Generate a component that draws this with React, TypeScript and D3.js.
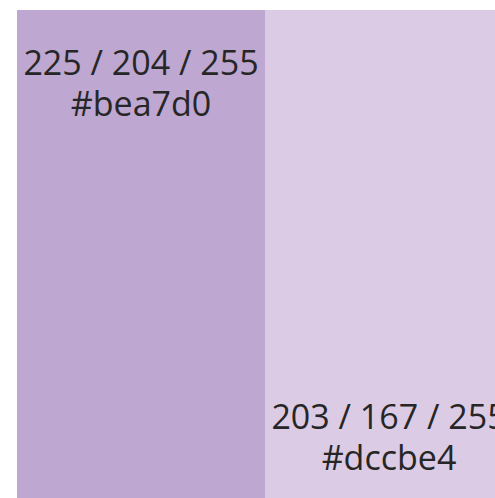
import { useRef, useEffect } from 'react'
import * as d3 from 'd3'

const swatchNames = ['a', 'b']
const swatchFills = ['#bea7d0', '#dccbe4']
const rgbLabels = ['225 / 204 / 255', '203 / 167 / 255']
const hexLabels = ['#bea7d0', '#dccbe4']
const labelAnchors = ['top', 'bottom']

const W = 495
const H = 498

export default function App() {
  const svgRef = useRef<SVGSVGElement>(null)

  useEffect(() => {
    if (!svgRef.current) return
    const svg = d3.select(svgRef.current)
    svg.selectAll('*').remove()

    const top = 10
    const bottom = 520
    const lineH = 41

    const x = d3.scaleBand<string>().domain(swatchNames).range([17, 513])

    const g = svg
      .selectAll('g.swatch')
      .data(swatchNames)
      .enter()
      .append('g')
      .attr('class', 'swatch')

    g.append('rect')
      .attr('x', (d) => x(d)!)
      .attr('y', top)
      .attr('width', x.bandwidth())
      .attr('height', bottom - top)
      .attr('fill', (_, i) => swatchFills[i])

    const label = g
      .append('text')
      .attr('text-anchor', 'middle')
      .attr('font-family', '"Open Sans", "Noto Sans", sans-serif')
      .attr('font-size', 34)
      .attr('fill', '#262626')

    label
      .append('tspan')
      .attr('x', (d) => x(d)! + x.bandwidth() / 2)
      .attr('y', (_, i) => (labelAnchors[i] === 'top' ? 75 : 429))
      .text((_, i) => rgbLabels[i])

    label
      .append('tspan')
      .attr('x', (d) => x(d)! + x.bandwidth() / 2)
      .attr('dy', lineH)
      .text((_, i) => hexLabels[i])
  }, [])

  return (
    <svg
      ref={svgRef}
      width={W}
      height={H}
      style={{ position: 'fixed', top: 0, left: 0, display: 'block' }}
    />
  )
}
